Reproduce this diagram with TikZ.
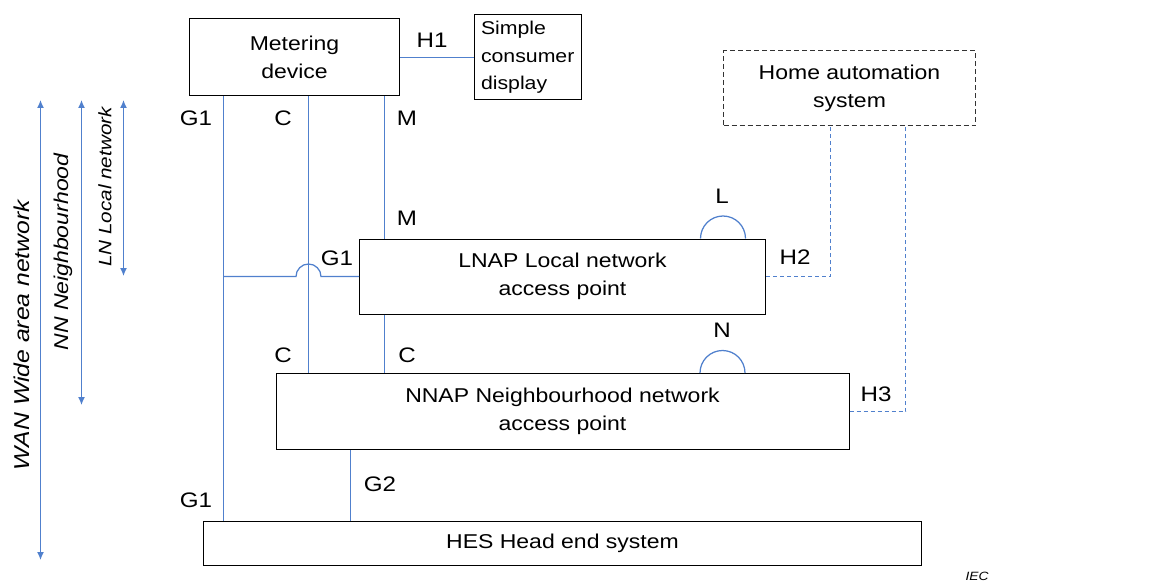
\documentclass[tikz,border=0pt]{standalone}
\usepackage{fontspec}
\setmainfont{Liberation Sans}[FakeStretch=1.15]
\usetikzlibrary{arrows.meta,calc}
\definecolor{linkblue}{RGB}{80,128,205}
\tikzset{
  box/.style={draw, line width=1pt, align=center, inner sep=0pt, font=\fontsize{20}{27.5}\selectfont},
  link/.style={draw=linkblue, line width=1.25pt},
  hlink/.style={link, dash pattern=on 4pt off 3pt},
  lbl/.style={inner sep=0pt, font=\fontsize{21}{25}\selectfont},
  rot/.style={inner sep=0pt, rotate=90, font=\itshape\fontsize{20}{24}\selectfont},
  span/.style={linkblue, line width=1.25pt, {Latex[length=8pt,width=7pt]}-{Latex[length=8pt,width=7pt]}},
}
\begin{document}
\begin{tikzpicture}[x=1pt, y=-1pt]
\useasboundingbox (0,0) rectangle (1173,583);

% Kaesten
\node[box, minimum width=210pt, minimum height=77pt] (meter) at (294.5,57.5) {Metering\\device};
\node[box, align=left, anchor=west, inner xsep=7pt, minimum height=85pt, font=\fontsize{18.5}{27.5}\selectfont] (display) at (473.5,57.5) {Simple\\consumer\\display};
\node[box, draw=black!80, dash pattern=on 5pt off 3pt, minimum width=252pt, minimum height=75pt] (home) at (849.5,88.5) {Home automation\\system};
\node[box, minimum width=406pt, minimum height=75pt] (lnap) at (562.5,276.5) {LNAP Local network\\access point};
\node[box, minimum width=573pt, minimum height=76pt] (nnap) at (562.5,411.5) {NNAP Neighbourhood network\\access point};
\node[box, minimum width=718pt, minimum height=44pt] (hes) at (562.5,543) {HES Head end system};

% Hilfskoordinaten fuer die Leitungen
\coordinate (g1x) at (223.5,0);
\coordinate (cx) at (308.5,0);
\coordinate (mx) at (384.5,0);
\coordinate (g2x) at (350.5,0);
\coordinate (h2x) at (830.5,0);
\coordinate (h3x) at (905.5,0);

% Leitungen
\draw[link] (meter.east) -- (display.west);
\draw[link] (meter.south -| g1x) -- (hes.north -| g1x);
\draw[link] (meter.south -| cx) -- (nnap.north -| cx);
\draw[link] (meter.south -| mx) -- (lnap.north -| mx);
\draw[link] (lnap.south -| mx) -- (nnap.north -| mx);
\draw[link] (nnap.south -| g2x) -- (hes.north -| g2x);
\draw[link] (lnap.west -| g1x) -- ([xshift=-12.5pt]lnap.west -| cx)
  arc[start angle=180, end angle=0, radius=12.5pt] -- (lnap.west);
\draw[hlink] (lnap.east) -- (lnap.east -| h2x) -- (home.south -| h2x);
\draw[hlink] (nnap.east) -- (nnap.east -| h3x) -- (home.south -| h3x);

% Schnittstellen L und N
\draw[link] ([xshift=138pt]lnap.north) arc[start angle=180, end angle=0, radius=22.5pt];
\draw[link] ([xshift=137.5pt]nnap.north) arc[start angle=180, end angle=0, radius=22.5pt];

% Beschriftungen
\node[lbl] (lh1) at (432,40) {H1};
\node[lbl] (lg1a) at (196,118) {G1};
\node[lbl] (lca) at (283,118) {C};
\node[lbl] (lma) at (407,118) {M};
\node[lbl] (lmb) at (407,218) {M};
\node[lbl] (lg1b) at (337,258) {G1};
\node[lbl] (ll) at (722,196) {L};
\node[lbl] (lh2) at (795,257) {H2};
\node[lbl] (ln) at (722,330) {N};
\node[lbl] (lcb) at (283,355) {C};
\node[lbl] (lcc) at (407,355) {C};
\node[lbl] (lh3) at (876,394) {H3};
\node[lbl] (lg2) at (380,484) {G2};
\node[lbl] (lg1c) at (196,500) {G1};
\node[inner sep=0pt, font=\itshape\fontsize{12}{14}\selectfont] (iec) at (977,576) {IEC};

% Bereiche
\draw[span] (40.5,100) -- (40.5,560);
\draw[span] (81.5,100) -- (81.5,405);
\draw[span] (123.5,100) -- (123.5,276);
\node[rot, font=\itshape\fontsize{21.5}{24}\selectfont] (wan) at (22,335) {WAN Wide area network};
\node[rot] (nn) at (63,252) {NN Neighbourhood};
\node[rot, font=\itshape\fontsize{18}{20}\selectfont] (lnet) at (105,187) {LN Local network};
\end{tikzpicture}
\end{document}
